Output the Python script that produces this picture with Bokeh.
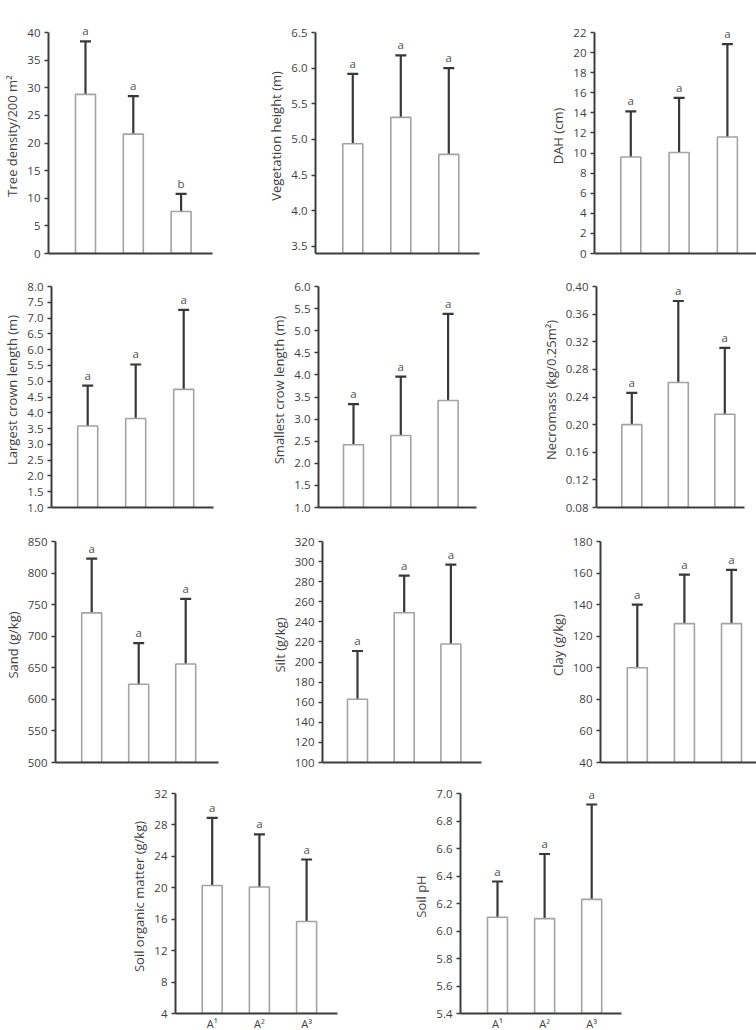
import numpy as np
from bokeh.plotting import figure
from bokeh.layouts import column, row
from bokeh.models import (FixedTicker, Whisker, TeeHead, LabelSet, ColumnDataSource,
                          Range1d, PrintfTickFormatter)
from bokeh.core.properties import value
from bokeh.embed import file_html
from bokeh.resources import INLINE

# ---------------- data ----------------
groups = ["A\u00b9", "A\u00b2", "A\u00b3"]
positions = [1, 2, 3]

tree_density_mean = [28.8, 21.6, 7.6]
tree_density_sd = [9.6, 6.9, 3.2]
tree_density_letters = ["a", "a", "b"]

veg_height_mean = [4.94, 5.31, 4.79]
veg_height_sd = [0.98, 0.87, 1.21]
veg_height_letters = ["a", "a", "a"]

dah_mean = [9.6, 10.05, 11.6]
dah_sd = [4.55, 5.45, 9.25]
dah_letters = ["a", "a", "a"]

largest_crown_mean = [3.58, 3.82, 4.74]
largest_crown_sd = [1.28, 1.71, 2.52]
largest_crown_letters = ["a", "a", "a"]

smallest_crown_mean = [2.42, 2.63, 3.42]
smallest_crown_sd = [0.92, 1.33, 1.96]
smallest_crown_letters = ["a", "a", "a"]

necromass_mean = [0.200, 0.261, 0.215]
necromass_sd = [0.046, 0.118, 0.096]
necromass_letters = ["a", "a", "a"]

sand_mean = [737, 624, 656]
sand_sd = [86, 65, 103]
sand_letters = ["a", "a", "a"]

silt_mean = [163, 249, 218]
silt_sd = [48, 37, 79]
silt_letters = ["a", "a", "a"]

clay_mean = [100, 128, 128]
clay_sd = [40, 31, 34]
clay_letters = ["a", "a", "a"]

som_mean = [20.3, 20.1, 15.7]
som_sd = [8.6, 6.7, 7.9]
som_letters = ["a", "a", "a"]

ph_mean = [6.10, 6.09, 6.23]
ph_sd = [0.26, 0.47, 0.69]
ph_letters = ["a", "a", "a"]

AX = "#3c3c3c"
TXT = "#3f3f3f"
FONT = "Open Sans"
PAD = 14  # extra pixels above the top tick so letters are not clipped


def ticks(lo, hi, step):
    n = int(round((hi - lo) / step))
    return [round(lo + i * step, 4) for i in range(n + 1)]


def panel(label, means, sds, letters, ylo, yhi, tlo, tstep, fmt,
          off, sp, fw, left, right, top, bottom, fh, show_x=False):
    x0 = 1 - off / sp
    x1 = x0 + fw / sp
    y_end = yhi + PAD * (yhi - ylo) / fh
    p = figure(frame_width=fw, frame_height=fh + PAD,
               x_range=Range1d(x0, x1), y_range=Range1d(ylo, y_end),
               output_backend="svg", toolbar_location=None, title=None,
               min_border_left=left, min_border_right=right,
               min_border_top=top - PAD, min_border_bottom=bottom)
    p.outline_line_color = None
    p.grid.visible = False
    p.background_fill_color = "white"
    p.border_fill_color = "white"

    upper = [m + s for m, s in zip(means, sds)]
    src = ColumnDataSource(dict(x=positions, top=means, upper=upper, letter=letters))
    p.vbar(x="x", top="top", bottom=ylo, width=20 / sp, source=src,
           fill_color="white", line_color="#a3a3a3", line_width=1.6)
    p.add_layout(Whisker(base="x", lower="top", upper="upper", source=src,
                         dimension="height", line_color="#383838", line_width=2.2,
                         upper_head=TeeHead(size=11, line_color="#383838", line_width=2.2),
                         lower_head=None))
    p.add_layout(LabelSet(x="x", y="upper", text="letter", source=src,
                          text_align="center", text_baseline="bottom", y_offset=3,
                          text_font=value(FONT), text_font_size=value("11.5px"),
                          text_color="#505050"))

    ya = p.yaxis[0]
    ya.bounds = (ylo, yhi)
    ya.ticker = FixedTicker(ticks=ticks(tlo, yhi, tstep))
    ya.formatter = PrintfTickFormatter(format=fmt)
    ya.axis_label = label
    ya.axis_label_text_font = FONT
    ya.axis_label_text_font_size = "13px"
    ya.axis_label_text_font_style = "normal"
    ya.axis_label_text_color = TXT
    ya.axis_label_standoff = 3
    ya.major_label_text_font = FONT
    ya.major_label_text_font_size = "11.5px"
    ya.major_label_text_color = TXT
    ya.major_label_standoff = 4
    ya.major_tick_out = 4
    ya.major_tick_in = 0
    ya.minor_tick_out = 0
    ya.minor_tick_in = 0
    ya.axis_line_color = AX
    ya.axis_line_width = 2
    ya.major_tick_line_color = AX
    ya.major_tick_line_width = 1.5

    xa = p.xaxis[0]
    xa.ticker = FixedTicker(ticks=positions if show_x else [])
    xa.major_label_overrides = {positions[i]: groups[i] for i in range(3)}
    xa.major_tick_line_color = None
    xa.major_tick_out = 0
    xa.major_tick_in = 0
    xa.minor_tick_out = 0
    xa.minor_tick_in = 0
    xa.axis_line_color = AX
    xa.axis_line_width = 2
    xa.major_label_standoff = 2
    xa.major_label_text_font = FONT
    xa.major_label_text_font_size = "11px"
    xa.major_label_text_color = TXT
    return p


FH = 221
p1 = panel("Tree density/200 m\u00b2", tree_density_mean, tree_density_sd, tree_density_letters,
           0, 40, 0, 5, "%d", 37, 47.8, 164, 46, 40, 32, 14, FH)
p2 = panel("Vegetation height (m)", veg_height_mean, veg_height_sd, veg_height_letters,
           3.4, 6.5, 3.5, 0.5, "%.1f", 37.3, 48, 164, 63, 23, 32, 14, FH)
p3 = panel("DAH (cm)", dah_mean, dah_sd, dah_letters,
           0, 22, 0, 2, "%d", 36.3, 48.3, 164, 92, 0, 32, 14, FH)

p4 = panel("Largest crown length (m)", largest_crown_mean, largest_crown_sd, largest_crown_letters,
           1.0, 8.0, 1.0, 0.5, "%.1f", 36.2, 48, 162, 46, 42, 19, 15, FH)
p5 = panel("Smallest crow length (m)", smallest_crown_mean, smallest_crown_sd, smallest_crown_letters,
           1.0, 6.0, 1.0, 0.5, "%.1f", 35, 47.3, 158, 63, 29, 19, 15, FH)
p6 = panel("Necromass (kg/0.25m\u00b2)", necromass_mean, necromass_sd, necromass_letters,
           0.08, 0.40, 0.08, 0.04, "%.2f", 35.3, 46.5, 148, 91, 17, 19, 15, FH)

p7 = panel("Sand (g/kg)", sand_mean, sand_sd, sand_letters,
           500, 850, 500, 50, "%d", 36.2, 47, 163, 46, 41, 19, 13, FH)
p8 = panel("Silt (g/kg)", silt_mean, silt_sd, silt_letters,
           100, 320, 100, 20, "%d", 35, 46.7, 159, 63, 28, 19, 13, FH)
p9 = panel("Clay (g/kg)", clay_mean, clay_sd, clay_letters,
           40, 180, 40, 20, "%d", 36.8, 47.1, 156, 91, 9, 19, 13, FH)

p10 = panel("Soil organic matter (g/kg)", som_mean, som_sd, som_letters,
            4, 32, 4, 4, "%d", 36.7, 47.2, 162, 175, 43, 18, 17, 220, show_x=True)
p11 = panel("Soil pH", ph_mean, ph_sd, ph_letters,
            5.4, 7.0, 5.4, 0.2, "%.1f", 37, 47.1, 161, 80, 135, 18, 17, 220, show_x=True)

layout = column(row(p1, p2, p3), row(p4, p5, p6), row(p7, p8, p9), row(p10, p11))

with open("out.html", "w") as f:
    f.write(file_html(layout, INLINE))
